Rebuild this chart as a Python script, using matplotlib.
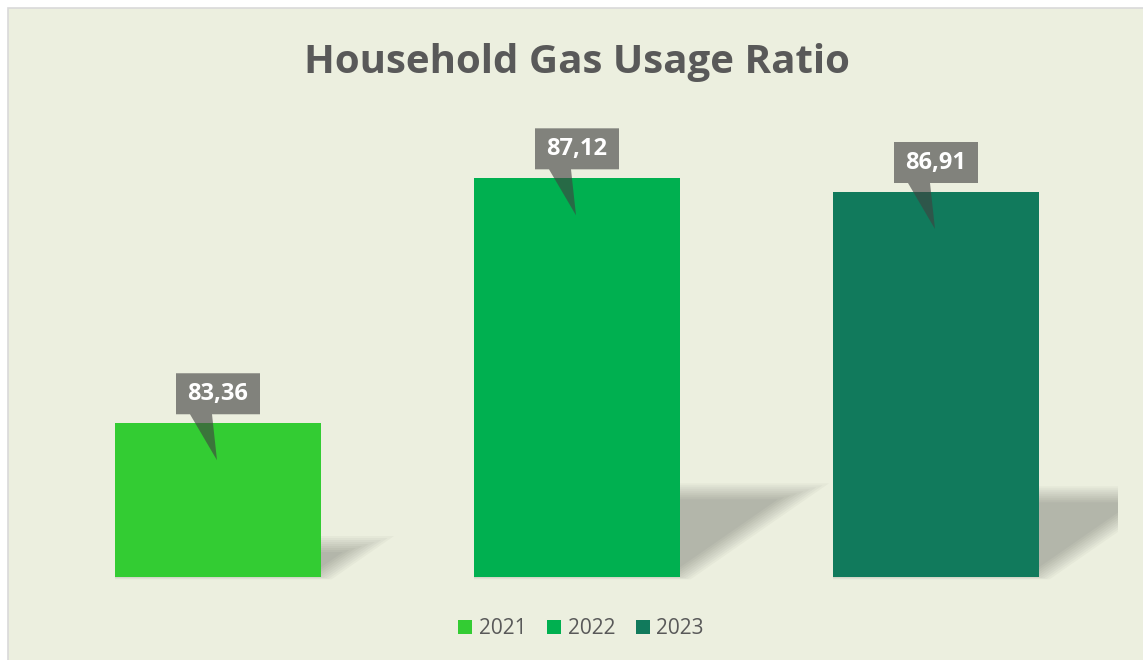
import matplotlib
matplotlib.use("Agg")
import math
import matplotlib.pyplot as plt
import matplotlib.transforms as mtransforms
from matplotlib.patches import Polygon, Rectangle

# ---- data ----
years = ["2021", "2022", "2023"]
values = [83.36, 87.12, 86.91]
labels = ["83,36", "87,12", "86,91"]
colors = ["#33CC33", "#00B050", "#117A5C"]
title = "Household Gas Usage Ratio"

BG = "#ECEFDF"
TXT = "#595959"

W, H = 1143, 660
fig = plt.figure(figsize=(W / 100, H / 100), dpi=100)
fig.patch.set_facecolor("white")
bgrect = Rectangle((8 / W, -0.01), 1.01 - 8 / W, 1.01 - 8 / H, transform=fig.transFigure,
                   facecolor=BG, edgecolor="#D9D9D9", linewidth=1.2, zorder=-5)
fig.add_artist(bgrect)

ax_left, ax_right = 38.5, 1117.5
ax_bottom, ax_top = 577, 121
ax = fig.add_axes([ax_left / W, (H - ax_bottom) / H, (ax_right - ax_left) / W, (ax_bottom - ax_top) / H])
ax.set_zorder(2)
ax.set_facecolor("none")
ax.set_xlim(-0.5, 2.5 + 2 / 359)
ax.set_ylim(81, 88)
ax.axis("off")

xs = list(range(len(years)))
bw = 206 / 359
bars = []
for i, (x, v, c, yr) in enumerate(zip(xs, values, colors, years)):
    b = ax.bar(x, v - 81, bottom=81, width=bw, color=c, label=yr, zorder=3)
    bars.append(b)

def px_trans(xd, yd):
    return mtransforms.Affine2D() + mtransforms.ScaledTranslation(xd, yd, ax.transData)

clip_rect = Rectangle((0, -0.03), 1, 1.1, transform=ax.transAxes, facecolor="none", edgecolor="none")
ax.add_patch(clip_rect)

# soft perspective shadows (pixel units, relative to bar bottom-left corner)
ppu = (ax_bottom - ax_top) / 7.0
wpx = bw * 359
n_layers = 9
layer_alpha = 0.026
for x, v in zip(xs, values):
    hpx = (v - 81) * ppu
    s = 0.31 * hpx
    t = 0.215 * hpx
    L = math.hypot(s, t)
    tr = px_trans(x - bw / 2, 81)
    for k in range(n_layers):
        g = -8 + 16 * k / (n_layers - 1)
        px0, py0 = wpx + g * t / L, -g * s / L
        u_top = (t + g - py0) / t
        u_bot = (-g * 0.3 - py0) / t
        verts = [(0, -g * 0.3), (px0 + u_bot * s, -g * 0.3), (px0 + u_top * s, t + g), (0, t + g)]
        poly = Polygon(verts, closed=True, transform=tr, facecolor="black", alpha=layer_alpha,
                       edgecolor="none", zorder=1)
        ax.add_patch(poly)
        poly.set_clip_path(clip_rect)

# callouts
for x, v, lab in zip(xs, values, labels):
    tr = px_trans(x, v)
    bw_, bh_ = 84, 41
    gap = 9
    verts = [(-bw_ / 2, gap), (-28, gap), (-1, -37), (-6, gap), (bw_ / 2, gap),
             (bw_ / 2, gap + bh_), (-bw_ / 2, gap + bh_)]
    ax.add_patch(Polygon(verts, closed=True, transform=tr, facecolor="#404040", alpha=0.62,
                         edgecolor="none", zorder=5, clip_on=False))
    ax.text(0, gap + bh_ / 2, lab, transform=tr, ha="center", va="center", color="white",
            fontsize=17, fontweight="bold", family="Open Sans", zorder=6)

fig.text(577 / W, 1 - 62 / H, title, ha="center", va="center", fontsize=29,
         fontweight="bold", color=TXT, family="Open Sans")

leg = fig.legend(handles=[b[0] for b in bars], labels=years, loc="center",
                 bbox_to_anchor=(581 / W, 1 - 629 / H), ncol=3, frameon=False,
                 prop={"family": "Open Sans", "size": 15}, handlelength=0.68, handleheight=0.68,
                 handletextpad=0.3, columnspacing=1.0, labelcolor=TXT)

fig.savefig("out.png", dpi=100, facecolor=fig.get_facecolor())
